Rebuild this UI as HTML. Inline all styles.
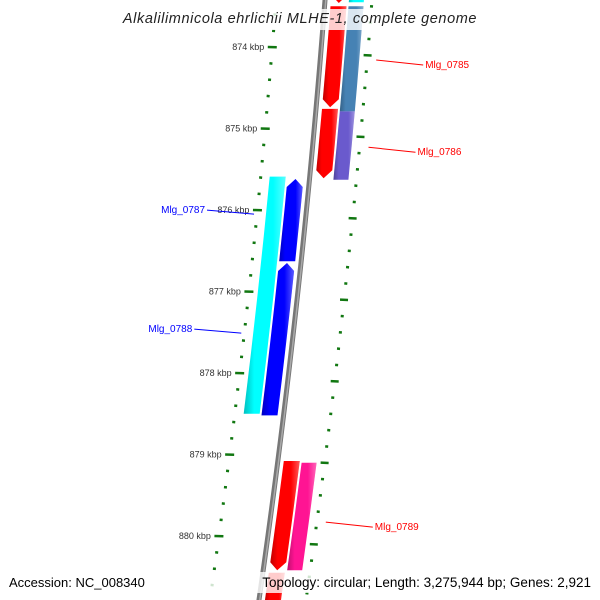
<!DOCTYPE html>
<html><head><meta charset="utf-8"><style>
body{margin:0;background:#fff;overflow:hidden}
svg{display:block;font-family:"Liberation Sans",sans-serif}
</style></head><body>
<svg id="c" width="600" height="600" xmlns="http://www.w3.org/2000/svg">
<defs>
<linearGradient id="shade" x1="0" x2="1" y1="0" y2="0">
<stop offset="0" stop-color="#000" stop-opacity="0.25"/><stop offset="0.25" stop-color="#000" stop-opacity="0"/>
<stop offset="0.7" stop-color="#fff" stop-opacity="0"/><stop offset="1" stop-color="#fff" stop-opacity="0.35"/>
</linearGradient>
</defs>
<g id="ticks"></g><g id="bb"></g><g id="genes"></g><g id="labels"></g>
<rect x="120" y="9" width="360" height="21" fill="#fff" fill-opacity="0.8"/>
<text x="300" y="23" text-anchor="middle" font-size="14.5" letter-spacing="0.6" font-style="italic" fill="#222">Alkalilimnicola ehrlichii MLHE-1, complete genome</text>
<rect x="0" y="572" width="600" height="21" fill="#fff" fill-opacity="0.8"/>
<text x="9" y="587" font-size="13" fill="#000">Accession: NC_008340</text>
<text x="591" y="587" font-size="13.5" fill="#000" text-anchor="end">Topology: circular; Length: 3,275,944 bp; Genes: 2,921</text>
</svg>
<script>
const geneNames=["gene-a","gene-b","gene-c","gene-d","gene-e","gene-f","gene-g","gene-h","gene-i","gene-j","gene-k","gene-l"];
const geneStart=[872.9,873.5,874.76,872.9,873.5,874.79,875.59,875.62,876.65,879.08,880.45,879.10];
const geneEnd  =[873.46,874.74,875.61,873.45,874.79,875.63,878.50,876.63,878.52,880.42,881.3,880.42];
const geneRow  =[1,1,1,2,2,2,-2,-1,-1,1,1,2];
const geneColor=["#ff0000","#ff0000","#ff0000","#00ffff","#4682b4","#6a5acd","#00ffff","#0000ff","#0000ff","#ff0000","#ff0000","#ff1493"];
const geneArrow=[1,1,1,0,0,0,0,1,1,1,0,0];
const majorKbp=[874,875,876,877,878,879,880];
const labelText=["Mlg_0785","Mlg_0786","Mlg_0787","Mlg_0788","Mlg_0789"];
const labelKbp=[874.16,875.23,876.05,877.51,879.83];
const labelSide=[1,1,-1,-1,1];
const labelColor=["#ff0000","#ff0000","#0000ff","#0000ff","#ff0000"];

const NS="http://www.w3.org/2000/svg";
const yOf=k=>47+(k-874)*81.5;
const bx=y=>325-0.0767*y-5.56e-5*y*y;
const rows={1:[6,22],2:[24,39],"-1":[-22,-6],"-2":[-40,-24]};
function mk(t,a,p){const e=document.createElementNS(NS,t);for(const k in a)e.setAttribute(k,a[k]);document.getElementById(p).appendChild(e);return e;}
let pts=[];for(let y=-5;y<=605;y+=10)pts.push([bx(y),y]);
const bb1=mk("polyline",{points:pts.map(p=>p.join(",")).join(" "),fill:"none",stroke:"#777","stroke-width":5},"bb");


const bb2=mk("polyline",{points:pts.map(p=>(p[0]+0.8)+","+p[1]).join(" "),fill:"none",stroke:"#aaa","stroke-width":1.5},"bb");


for(let k=872.8;k<=881.0;k+=0.2){
  const kk=Math.round(k*10)/10;
  const major=Math.abs(kk-Math.round(kk))<0.01;
  [[-49,0],[47,0.1]].forEach(([off,sh])=>{
    const y=yOf(kk+sh);if(y>598)return;const x=bx(y)+off;
    const w=major?(off<0?9:8):3;
    const t=mk("line",{x1:x-w/2,y1:y,x2:x+w/2,y2:y+0.3,stroke:"#117711","stroke-width":2.5},"ticks");
    
    
  });
}
majorKbp.forEach(k=>{const y=yOf(k);
  const t=mk("text",{x:bx(y)-57,y:y+3,"font-size":9,"text-anchor":"end",fill:"#333"},"ticks");
  t.textContent=k+" kbp";
  
  });
geneStart.forEach((s,i)=>{
  const r=rows[geneRow[i]];const y1=yOf(s),y2=Math.min(yOf(geneEnd[i]),600);
  const fwd=geneRow[i]>0;const ah=geneArrow[i]?8:0;
  const L=[],R=[];
  const ya=fwd?y1:y1+ah, yb=fwd?y2-ah:y2;
  for(let t=0;t<=4;t++){const y=ya+(yb-ya)*t/4;L.push([bx(y)+r[0],y]);R.push([bx(y)+r[1],y]);}
  let poly;
  if(ah){
    if(fwd){const ty=y2;poly=[...L,[bx(ty)+(r[0]+r[1])/2,ty],...R.reverse()];}
    else{const ty=y1;poly=[[bx(ty)+(r[0]+r[1])/2,ty],...R,...L.reverse()];}
  } else poly=[...L,...R.reverse()];
  const ps=poly.map(p=>p[0].toFixed(1)+","+p[1].toFixed(1)).join(" ");
  const g=mk("polygon",{points:ps,fill:geneColor[i]},"genes");
  
  
  const h=mk("polygon",{points:ps,fill:"url(#shade)"},"genes");
  
  
});
labelText.forEach((t,i)=>{
  const y=yOf(labelKbp[i]);const s=labelSide[i];
  const x0=bx(y)+s*(s>0?56:52), x1=x0+s*47, y1=y+(s>0?5:-4);
  const l=mk("line",{x1:x0,y1:y,x2:x1,y2:y1,stroke:labelColor[i],"stroke-width":1},"labels");
  
  
  const tx=mk("text",{x:x1+s*2,y:y1+3,"font-size":10,"text-anchor":s>0?"start":"end",fill:labelColor[i]},"labels");
  tx.textContent=t;
  
  
});
</script>
</body></html>
